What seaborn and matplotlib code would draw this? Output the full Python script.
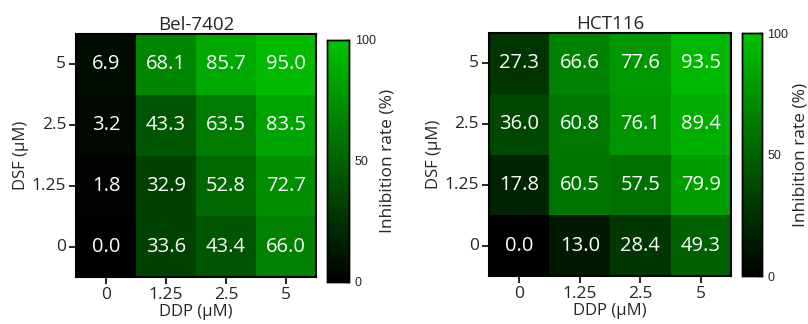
import numpy as np
import pandas as pd
import matplotlib
matplotlib.use("Agg")
import matplotlib.pyplot as plt
import seaborn as sns
from matplotlib.colors import LinearSegmentedColormap

sns.set_style("white")
plt.rcParams['font.family'] = ['Open Sans', 'DejaVu Sans']

ddp_labels = ["0", "1.25", "2.5", "5"]
dsf_labels = ["5", "2.5", "1.25", "0"]

bel_values = [
    [6.9, 68.1, 85.7, 95.0],
    [3.2, 43.3, 63.5, 83.5],
    [1.8, 32.9, 52.8, 72.7],
    [0.0, 33.6, 43.4, 66.0],
]
hct_values = [
    [27.3, 66.6, 77.6, 93.5],
    [36.0, 60.8, 76.1, 89.4],
    [17.8, 60.5, 57.5, 79.9],
    [0.0, 13.0, 28.4, 49.3],
]
titles = ["Bel-7402", "HCT116"]

cmap = LinearSegmentedColormap.from_list("blkgrn", ["#000000", "#00c400"])

fig = plt.figure(figsize=(8.08, 3.24), dpi=100)
ax_pos = [[0.094, 0.145, 0.297, 0.750], [0.605, 0.148, 0.300, 0.750]]
cb_pos = [[0.405, 0.130, 0.027, 0.748], [0.918, 0.148, 0.025, 0.750]]

for i, vals in enumerate([bel_values, hct_values]):
    df = pd.DataFrame(vals, index=dsf_labels, columns=ddp_labels)
    ax = fig.add_axes(ax_pos[i])
    cax = fig.add_axes(cb_pos[i])
    sns.heatmap(df, ax=ax, cbar_ax=cax, cmap=cmap, vmin=0, vmax=100,
                annot=True, fmt=".1f",
                annot_kws={"color": "white", "fontsize": 14.5},
                cbar_kws={"ticks": [0, 50, 100]})
    ax.set_title(titles[i], fontsize=13.5, pad=3)
    ax.set_xlabel("DDP (μM)", fontsize=12, labelpad=1)
    ax.set_ylabel("DSF (μM)", fontsize=12, labelpad=2)
    ax.tick_params(axis="both", which="both", length=5, width=1.2, color="black",
                   labelsize=12.5, pad=2, bottom=True, left=True)
    ax.set_yticklabels(dsf_labels, rotation=0)
    ax.set_xticklabels(ddp_labels, rotation=0)
    for s in ax.spines.values():
        s.set_visible(True)
        s.set_color("black")
        s.set_linewidth(1.5)
    cax.tick_params(labelsize=9, length=3, width=1, direction="in", color="black", pad=4)
    for lbl in cax.get_yticklabels():
        lbl.set_family(['Liberation Sans', 'DejaVu Sans'])
    cax.set_ylabel("Inhibition rate (%)", fontsize=12.5, labelpad=3)
    for s in cax.spines.values():
        s.set_visible(True)
        s.set_color("black")
        s.set_linewidth(1.0)

fig.savefig("out.png", dpi=100)
